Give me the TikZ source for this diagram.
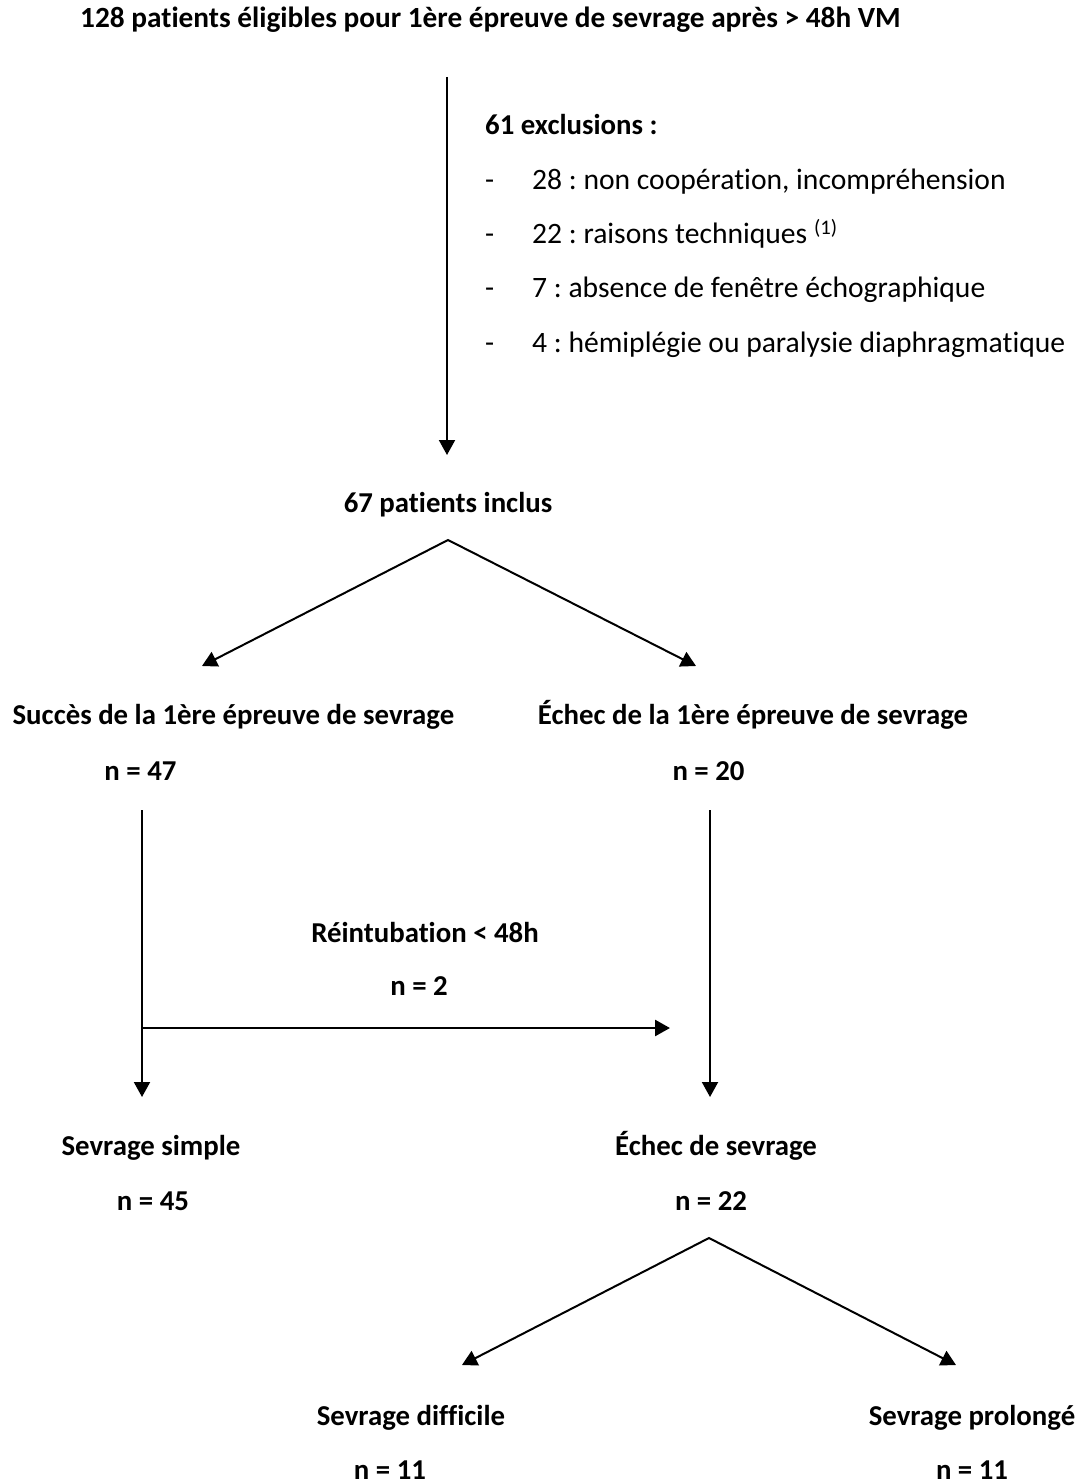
\documentclass[tikz,border=0pt]{standalone}
\usepackage{fontspec}
\setmainfont{Carlito}[Ligatures=NoCommon]
\usetikzlibrary{arrows.meta}
\frenchspacing
\begin{document}
\begin{tikzpicture}[x=1bp,y=-1bp,
  txt/.style={inner sep=0,anchor=base,font=\fontsize{28.8bp}{34bp}\selectfont\bfseries},
  item/.style={inner sep=0,anchor=base west,font=\fontsize{29.6bp}{34bp}\selectfont},
  arr/.style={line width=2bp,-{Triangle[length=15bp,width=16bp]}},
  split/.style={line width=2bp,{Triangle[length=15bp,width=16bp]}-{Triangle[length=15bp,width=16bp]}}]
\useasboundingbox (0,0) rectangle (1084,1484);
\node[txt,anchor=base west,font=\fontsize{29.3bp}{34bp}\selectfont\bfseries] (elig) at (80,28) {128 patients éligibles pour 1ère épreuve de sevrage après > 48h VM};
\node[txt,anchor=base west] (excl) at (485,135) {61 exclusions :};
\foreach \nb/\why [count=\i] in {28/{non coopération, incompréhension},22/{raisons techniques \textsuperscript{(1)}},7/{absence de fenêtre échographique},4/{hémiplégie ou paralysie diaphragmatique}}
{\node[item] (dash\i) at (485,135+54.3*\i) {-};
\node[item] (excl\i) at (532,135+54.3*\i) {\nb{} : \why};
}
\node[txt] (incl) at (448,512) {67 patients inclus};
\node[txt] (succ) at (233.5,724) {Succès de la 1ère épreuve de sevrage};
\node[txt] (echec) at (753,724) {Échec de la 1ère épreuve de sevrage};
\node[txt] (nsucc) at (140.5,780) {n = 47};
\node[txt] (nechec) at (708.5,780) {n = 20};
\node[txt] (reint) at (425,942) {Réintubation < 48h};
\node[txt] (nreint) at (419,995) {n = 2};
\node[txt] (simple) at (151,1155) {Sevrage simple};
\node[txt] (echsev) at (716,1155) {Échec de sevrage};
\node[txt] (nsimple) at (153,1210) {n = 45};
\node[txt] (nechsev) at (711,1210) {n = 22};
\node[txt] (diff) at (411,1425) {Sevrage difficile};
\node[txt] (prol) at (972,1425) {Sevrage prolongé};
\node[txt] (ndiff) at (390,1479) {n = 11};
\node[txt] (nprol) at (972,1479) {n = 11};
% arrow ends
\coordinate (v1a) at (447,77); \coordinate (v1b) at (447,455);
\coordinate (s1) at (448,540); \coordinate (s1l) at (202,666); \coordinate (s1r) at (696,666);
\coordinate (v2a) at (142,810); \coordinate (v2b) at (142,1097);
\coordinate (v3a) at (710,810); \coordinate (v3b) at (710,1097);
\coordinate (h1a) at (142,1028); \coordinate (h1b) at (670,1028);
\coordinate (s2) at (709,1238); \coordinate (s2l) at (462,1365); \coordinate (s2r) at (956,1365);
\draw[arr] (v1a) -- (v1b);
\draw[split] (s1l) -- (s1) -- (s1r);
\draw[arr] (v2a) -- (v2b);
\draw[arr] (v3a) -- (v3b);
\draw[arr,line width=2.6bp] (h1a) -- (h1b);
\draw[split] (s2l) -- (s2) -- (s2r);
\end{tikzpicture}
\end{document}
